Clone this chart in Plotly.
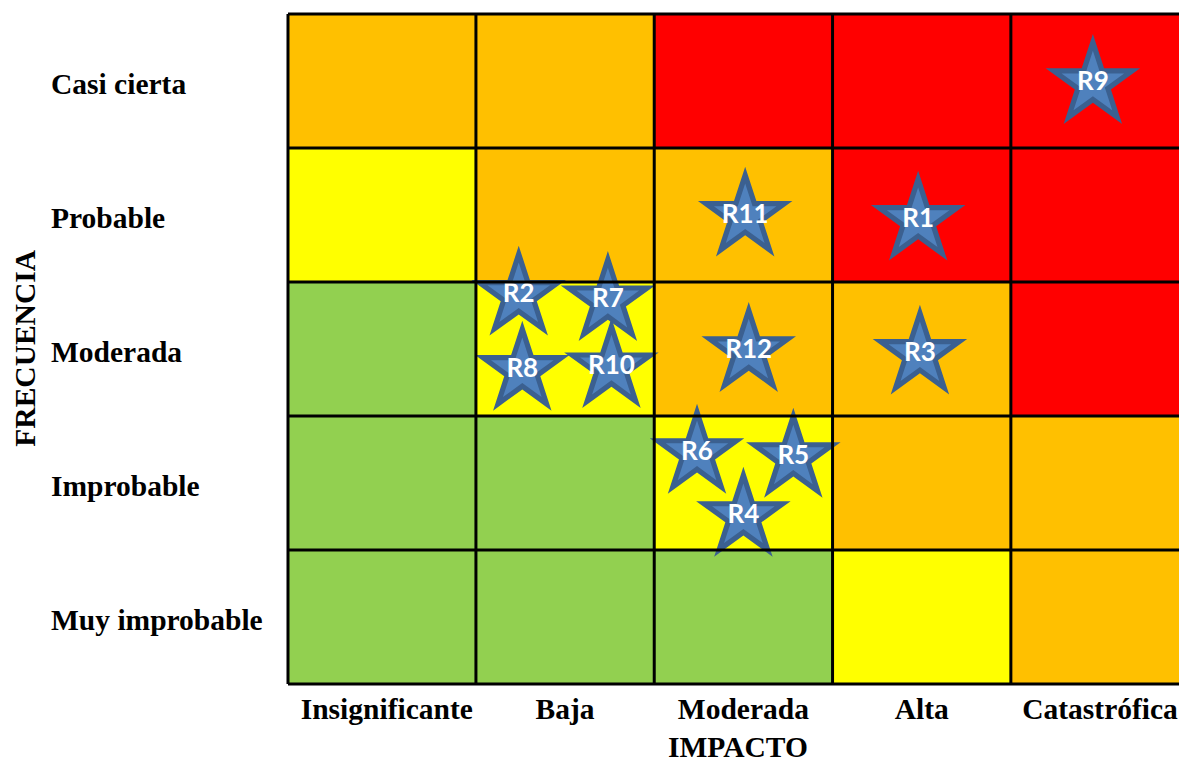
import plotly.graph_objects as go

# ---------------- data ----------------
impact_labels = ["Insignificante", "Baja", "Moderada", "Alta", "Catastrófica"]
freq_labels = ["Muy improbable", "Improbable", "Moderada", "Probable", "Casi cierta"]  # bottom -> top

# risk level per cell (rows bottom->top, cols left->right): 0 green, 1 yellow, 2 orange, 3 red
risk_levels = [
    [0, 0, 0, 1, 2],
    [0, 0, 1, 2, 2],
    [0, 1, 2, 2, 3],
    [1, 2, 2, 3, 3],
    [2, 2, 3, 3, 3],
]

# risks (in drawing order); impact / frequency on the 1..5 category scale
risk_names = ["R9", "R11", "R1", "R2", "R7", "R12", "R3", "R8", "R10", "R6", "R5", "R4"]
risk_impact = [4.96, 3.01, 3.98, 1.74, 2.24, 3.03, 3.99, 1.76, 2.26, 2.74, 3.28, 3.00]
risk_freq = [4.98, 3.99, 3.96, 3.40, 3.36, 2.98, 2.96, 2.84, 2.86, 2.22, 2.19, 1.75]

# ---------------- style ----------------
level_colors = ["#92D050", "#FFFF00", "#FFC000", "#FF0000"]
col_edges = [0.446, 1.5, 2.5, 3.5, 4.5, 5.5]
row_edges = [0.5, 1.5, 2.5, 3.5, 4.5, 5.5]
serif = "Liberation Serif, Times New Roman, serif"
star_font = "Lato, Carlito, Calibri, sans-serif"
label_size = 29.5

colorscale = []
for i, c in enumerate(level_colors):
    colorscale.append([i / 4, c])
    colorscale.append([(i + 1) / 4, c])

fig = go.Figure()
fig.add_trace(go.Heatmap(
    x=col_edges, y=row_edges, z=risk_levels,
    zmin=-0.5, zmax=3.5, colorscale=colorscale,
    showscale=False, hoverinfo="skip",
))

shapes = []
for xe in col_edges:
    shapes.append(dict(type="line", xref="x", yref="y", x0=xe, x1=xe,
                       y0=row_edges[0], y1=row_edges[-1],
                       line=dict(color="black", width=3)))
for ye in row_edges:
    shapes.append(dict(type="line", xref="x", yref="y", y0=ye, y1=ye,
                       x0=col_edges[0], x1=col_edges[-1],
                       line=dict(color="black", width=3)))

for name, xi, yi in zip(risk_names, risk_impact, risk_freq):
    fig.add_trace(go.Scatter(
        x=[xi], y=[yi], mode="markers",
        marker=dict(symbol="star", size=71, color="#3B6090",
                    line=dict(width=0)),
        hoverinfo="skip", showlegend=False,
    ))
    fig.add_trace(go.Scatter(
        x=[xi], y=[yi], mode="markers+text", text=[name],
        textposition="middle center",
        textfont=dict(family=star_font, size=26, color="white", weight="bold"),
        marker=dict(symbol="star", size=47, color="#4F81BD",
                    line=dict(width=0)),
        hoverinfo="text", showlegend=False,
    ))

annotations = []
for i, lab in enumerate(freq_labels):
    annotations.append(dict(
        text=lab, xref="paper", yref="y", x=-0.2625, y=i + 1 - 0.02,
        xanchor="left", yanchor="middle", showarrow=False,
        font=dict(family=serif, size=label_size, color="black", weight="bold"),
    ))
annotations.append(dict(
    text="IMPACTO", xref="paper", yref="paper", x=0.507, y=-0.087,
    xanchor="center", yanchor="middle", showarrow=False,
    font=dict(family=serif, size=label_size, color="black", weight="bold"),
))
annotations.append(dict(
    text="FRECUENCIA", xref="paper", yref="paper", x=-0.289, y=0.501,
    xanchor="center", yanchor="middle", showarrow=False, textangle=-90,
    font=dict(family=serif, size=label_size, color="black", weight="bold"),
))

fig.update_layout(
    width=1179, height=763,
    margin=dict(l=284, r=0, t=10, b=75),
    paper_bgcolor="white", plot_bgcolor="white",
    shapes=shapes, annotations=annotations,
    showlegend=False,
    xaxis=dict(range=[0.4236, 5.443], tickvals=[1, 2, 3, 4, 5],
               ticktext=impact_labels, showgrid=False, zeroline=False,
               ticks="", showline=False, fixedrange=True,
               ticklabeloverflow="allow",
               tickfont=dict(family=serif, size=label_size, color="black", weight="bold")),
    yaxis=dict(range=[0.4701, 5.5299], showticklabels=False, showgrid=False,
               zeroline=False, ticks="", showline=False, fixedrange=True),
)

# remove the default page margin so the figure fills the window exactly
fig.write_html(
    "out.html",
    config={"displayModeBar": False},
    post_script="document.body.style.margin='0px';document.body.style.overflow='hidden';",
)
